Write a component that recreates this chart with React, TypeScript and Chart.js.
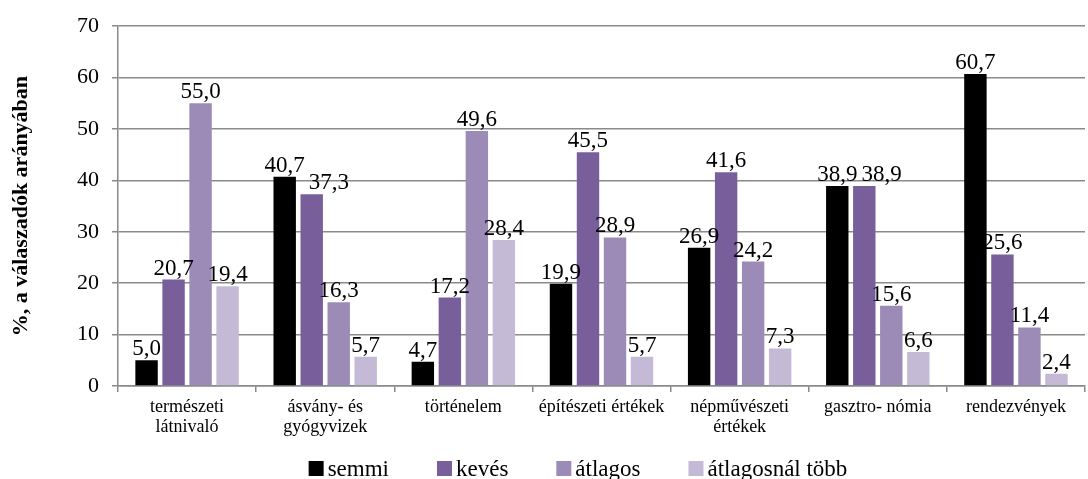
import React, { useEffect, useRef } from "react";
import { Chart, registerables } from "chart.js";

Chart.register(...registerables);

const categories: (string | string[])[] = [
  ["természeti", "látnivaló"],
  ["ásvány- és", "gyógyvizek"],
  "történelem",
  "építészeti értékek",
  ["népművészeti", "értékek"],
  "gasztro- nómia",
  "rendezvények",
];

const seriesNames = ["semmi", "kevés", "átlagos", "átlagosnál több"];
const semmi = [5.0, 40.7, 4.7, 19.9, 26.9, 38.9, 60.7];
const keves = [20.7, 37.3, 17.2, 45.5, 41.6, 38.9, 25.6];
const atlagos = [55.0, 16.3, 49.6, 28.9, 24.2, 15.6, 11.4];
const tobb = [19.4, 5.7, 28.4, 5.7, 7.3, 6.6, 2.4];
const colors = ["#000000", "#785F9B", "#9D8BB7", "#C4BAD6"];

const yTicks = [0, 10, 20, 30, 40, 50, 60, 70];
const yTitle = "%, a válaszadók arányában";

const FONT = "'Liberation Serif', 'Times New Roman', serif";
const GRID = "#8a8a8a";

const dataLabels = {
  id: "dataLabels",
  afterDatasetsDraw(chart: any) {
    const ctx = chart.ctx;
    ctx.save();
    const size = 23;
    ctx.font = `${size}px ${FONT}`;
    ctx.fillStyle = "#000";
    ctx.textAlign = "left";
    ctx.textBaseline = "alphabetic";
    const nCat = chart.data.labels.length;
    for (let i = 0; i < nCat; i++) {
      let prev: { l: number; r: number; t: number; b: number } | null = null;
      chart.data.datasets.forEach((ds: any, di: number) => {
        const el = chart.getDatasetMeta(di).data[i];
        const txt = (ds.data[i] as number).toFixed(1).replace(".", ",");
        const w = ctx.measureText(txt).width;
        const base = el.y - 5;
        let l = el.x - w / 2;
        const t = base - size * 0.7;
        const b = base;
        if (prev && l < prev.r + 4 && t < prev.b + 8 && b > prev.t - 8) {
          l = prev.r + 4;
        }
        ctx.fillText(txt, l, base);
        prev = { l, r: l + w, t, b };
      });
    }
    ctx.restore();
  },
};

const customLegend = {
  id: "customLegend",
  afterDraw(chart: any) {
    const ctx = chart.ctx;
    ctx.save();
    ctx.font = `23px ${FONT}`;
    const box = 15;
    const gapText = 4;
    const gapItem = 48;
    const widths = seriesNames.map((n) => ctx.measureText(n).width);
    const total =
      widths.reduce((a, w) => a + box + gapText + w, 0) + gapItem * (seriesNames.length - 1);
    let x = 578 - total / 2;
    const baseline = 476;
    seriesNames.forEach((n, i) => {
      ctx.fillStyle = colors[i];
      ctx.fillRect(x, baseline - 15, box, box);
      x += box + gapText;
      ctx.fillStyle = "#000";
      ctx.textAlign = "left";
      ctx.textBaseline = "alphabetic";
      ctx.fillText(n, x, baseline);
      x += widths[i] + gapItem;
    });
    ctx.restore();
  },
};

export default function App() {
  const ref = useRef<HTMLCanvasElement>(null);

  useEffect(() => {
    if (!ref.current) return;
    Chart.defaults.font.family = FONT;
    const chart = new Chart(ref.current, {
      type: "bar",
      data: {
        labels: categories,
        datasets: [semmi, keves, atlagos, tobb].map((d, i) => ({
          label: seriesNames[i],
          data: d,
          backgroundColor: colors[i],
          borderWidth: 0,
          categoryPercentage: 0.782,
          barPercentage: 0.83,
        })),
      },
      options: {
        responsive: false,
        animation: false,
        layout: { padding: { top: 24, right: 3, left: 0, bottom: 0 } },
        plugins: {
          legend: { display: false },
          tooltip: { enabled: false },
        },
        scales: {
          x: {
            grid: {
              offset: true,
              drawOnChartArea: false,
              color: GRID,
              lineWidth: 1.5,
              tickLength: 6,
            },
            border: { color: GRID, width: 1.5 },
            ticks: {
              color: "#000",
              font: { size: 18, family: FONT, lineHeight: 1.12 },
              padding: 5,
              maxRotation: 0,
              autoSkip: false,
            },
            afterFit: (scale: any) => {
              scale.height = 93;
            },
          },
          y: {
            min: 0,
            max: 70,
            afterBuildTicks: (scale: any) => {
              scale.ticks = yTicks.map((v) => ({ value: v }));
            },
            grid: { color: GRID, lineWidth: 1.5, tickLength: 6 },
            border: { color: GRID, width: 1.5 },
            ticks: {
              color: "#000",
              font: { size: 22, family: FONT },
              padding: 13,
            },
            title: {
              display: true,
              text: yTitle,
              color: "#000",
              font: { size: 22, weight: "bold", family: FONT },
              padding: { top: 8, bottom: 0 },
            },
            afterFit: (scale: any) => {
              scale.width = 118;
            },
          },
        },
      },
      plugins: [dataLabels, customLegend],
    });
    return () => chart.destroy();
  }, []);

  return (
    <div style={{ position: "fixed", left: 0, top: 0, width: 1088, height: 479, background: "#fff" }}>
      <canvas ref={ref} width={1088} height={479} />
    </div>
  );
}
